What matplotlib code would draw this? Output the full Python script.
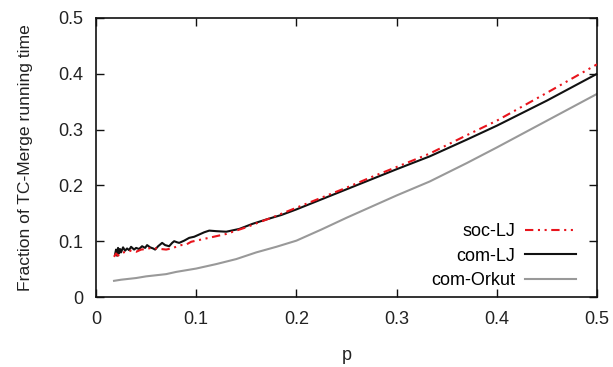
import matplotlib
matplotlib.use("Agg")
import matplotlib.pyplot as plt

plt.rcParams['font.family'] = ['Liberation Sans', 'DejaVu Sans']

# com-LJ
p_comlj = [0.019, 0.020, 0.021, 0.022, 0.023, 0.024, 0.025, 0.027, 0.029, 0.031,
           0.033, 0.035, 0.038, 0.040, 0.043, 0.046, 0.049, 0.051, 0.054, 0.057,
           0.059, 0.062, 0.066, 0.069, 0.073, 0.076, 0.078, 0.081, 0.083, 0.088,
           0.093, 0.098, 0.103, 0.108, 0.113, 0.120, 0.130, 0.143, 0.156, 0.170,
           0.185, 0.200, 0.225, 0.250, 0.275, 0.300, 0.333, 0.370, 0.400, 0.450,
           0.500]
y_comlj = [0.076, 0.085, 0.074, 0.088, 0.078, 0.086, 0.080, 0.089, 0.083, 0.087,
           0.084, 0.090, 0.085, 0.088, 0.086, 0.091, 0.088, 0.093, 0.089, 0.087,
           0.085, 0.091, 0.097, 0.093, 0.091, 0.097, 0.100, 0.098, 0.097, 0.101,
           0.106, 0.108, 0.112, 0.116, 0.119, 0.118, 0.117, 0.122, 0.131, 0.139,
           0.147, 0.157, 0.175, 0.193, 0.211, 0.229, 0.252, 0.282, 0.307, 0.352,
           0.400]

# soc-LJ
p_soclj = [0.018, 0.020, 0.022, 0.025, 0.030, 0.035, 0.040, 0.045, 0.050, 0.055,
           0.060, 0.065, 0.070, 0.075, 0.080, 0.085, 0.090, 0.095, 0.100, 0.105,
           0.110, 0.120, 0.130, 0.140, 0.150, 0.160, 0.175, 0.200, 0.225, 0.250,
           0.275, 0.300, 0.333, 0.370, 0.400, 0.450, 0.500]
y_soclj = [0.072, 0.078, 0.074, 0.079, 0.081, 0.083, 0.081, 0.085, 0.086, 0.088,
           0.087, 0.086, 0.085, 0.087, 0.090, 0.093, 0.094, 0.099, 0.101, 0.103,
           0.105, 0.109, 0.113, 0.119, 0.125, 0.132, 0.142, 0.160, 0.178, 0.196,
           0.215, 0.233, 0.257, 0.290, 0.316, 0.366, 0.417]

# com-Orkut
p_orkut = [0.018, 0.025, 0.030, 0.040, 0.050, 0.060, 0.070, 0.080, 0.090, 0.100,
           0.110, 0.120, 0.140, 0.160, 0.180, 0.200, 0.225, 0.250, 0.275, 0.300,
           0.333, 0.370, 0.400, 0.450, 0.500]
y_orkut = [0.029, 0.031, 0.032, 0.034, 0.037, 0.039, 0.041, 0.045, 0.048, 0.051,
           0.055, 0.059, 0.068, 0.080, 0.090, 0.101, 0.121, 0.142, 0.162, 0.182,
           0.207, 0.240, 0.268, 0.316, 0.364]

ticks = [0, 0.1, 0.2, 0.3, 0.4, 0.5]
tick_labels = ["0", "0.1", "0.2", "0.3", "0.4", "0.5"]

FS = 13
TXT = '#222222'

fig = plt.figure(figsize=(6.13, 3.67), dpi=100)
ax = fig.add_axes([0.1566, 0.1907, 0.8174, 0.7603])

ax.plot(p_soclj, y_soclj, color='#e8141c', lw=1.5,
        linestyle=(0, (4, 2.2, 1, 2.2, 1, 2.2)), label='soc-LJ', zorder=3)
ax.plot(p_comlj, y_comlj, color='#111111', lw=1.5, label='com-LJ', zorder=2)
ax.plot(p_orkut, y_orkut, color='#999999', lw=1.5, label='com-Orkut', zorder=1)

ax.set_xlim(0, 0.5)
ax.set_ylim(0, 0.5)
ax.set_xticks(ticks)
ax.set_xticklabels(tick_labels)
ax.set_yticks(ticks)
ax.set_yticklabels(tick_labels)
ax.tick_params(direction='in', length=6, width=1, top=True, right=True,
               labelsize=FS, colors=TXT)
ax.tick_params(axis='x', pad=10)
ax.tick_params(axis='y', pad=9)
ax.tick_params(colors='#111111', which='both', labelcolor=TXT)
for s in ax.spines.values():
    s.set_linewidth(1.2)
    s.set_color('#111111')

ax.set_xlabel('p', fontsize=FS, color=TXT, labelpad=14)
ax.set_ylabel('Fraction of TC-Merge running time', fontsize=12.6, color=TXT)
ax.yaxis.set_label_coords(-0.126, 0.5)

leg = ax.legend(loc='lower right', frameon=False, markerfirst=False,
                fontsize=FS, handlelength=2.8, handletextpad=0.55,
                labelspacing=0.42, borderpad=0, borderaxespad=0,
                bbox_to_anchor=(0.958, 0.028))
leg._legend_box.align = "right"

fig.savefig('out.png', dpi=100)
